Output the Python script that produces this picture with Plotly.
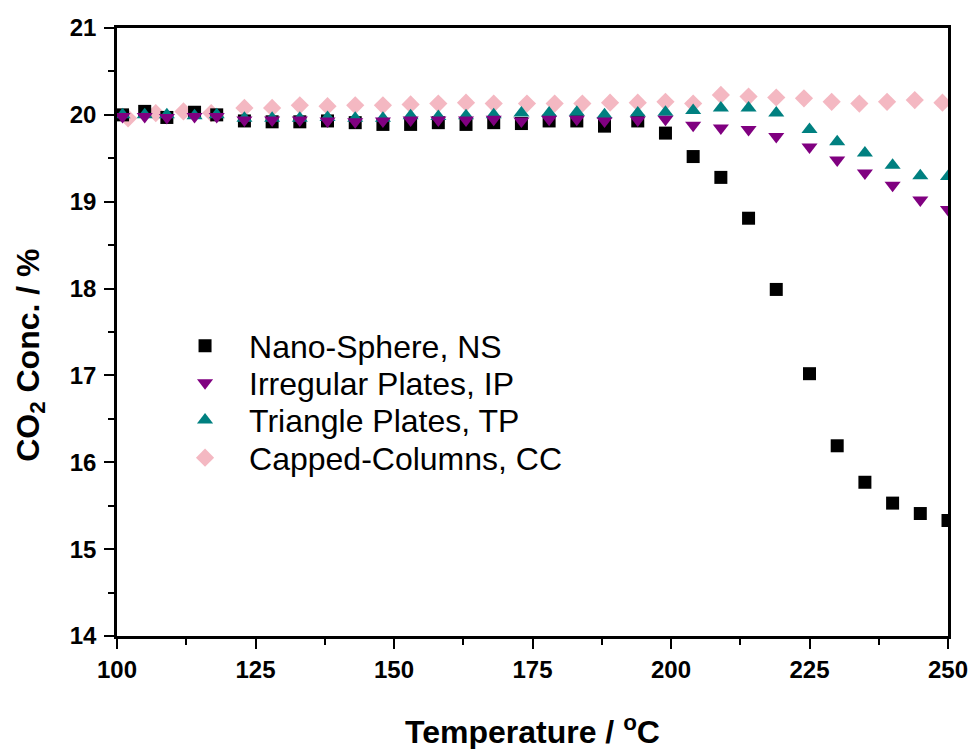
import plotly.graph_objects as go

# Temperature (°C) values
temp_main = [101, 105, 109, 114, 118, 123, 128, 133, 138, 143, 148, 153, 158, 163, 168,
             173, 178, 183, 188, 194, 199, 204, 209, 214, 219, 225, 230, 235, 240, 245, 250]
temp_cc = [102, 107, 112, 117, 123, 128, 133, 138, 143, 148, 153, 158, 163, 168, 174,
           179, 184, 189, 194, 199, 204, 209, 214, 219, 224, 229, 234, 239, 244, 249]

# CO2 concentration (%)
ns = [20.00, 20.04, 19.97, 20.03, 20.00, 19.93, 19.92, 19.92, 19.93, 19.91, 19.89, 19.89,
      19.91, 19.89, 19.91, 19.90, 19.93, 19.93, 19.87, 19.93, 19.79, 19.52, 19.28, 18.81,
      17.99, 17.02, 16.19, 15.77, 15.53, 15.41, 15.33]
ip = [19.98, 19.98, 19.97, 19.98, 19.98, 19.94, 19.94, 19.94, 19.93, 19.92, 19.93, 19.94,
      19.94, 19.94, 19.95, 19.93, 19.95, 19.95, 19.93, 19.94, 19.95, 19.88, 19.85, 19.83,
      19.75, 19.63, 19.48, 19.33, 19.19, 19.02, 18.91]
tp = [20.00, 20.00, 20.00, 19.99, 20.00, 19.96, 19.96, 19.96, 19.97, 19.96, 19.96, 19.99,
      19.98, 19.99, 20.00, 20.02, 20.02, 20.03, 20.00, 20.02, 20.03, 20.05, 20.08, 20.08,
      20.02, 19.83, 19.69, 19.56, 19.42, 19.30, 19.29]
cc = [19.96, 20.02, 20.04, 20.02, 20.08, 20.08, 20.11, 20.10, 20.11, 20.11, 20.12, 20.13,
      20.14, 20.13, 20.13, 20.13, 20.13, 20.14, 20.14, 20.15, 20.13, 20.23, 20.21, 20.20,
      20.19, 20.15, 20.13, 20.15, 20.17, 20.14]

names = ["Nano-Sphere, NS", "Irregular Plates, IP", "Triangle Plates, TP", "Capped-Columns, CC"]
x_ticks = [100, 125, 150, 175, 200, 225, 250]
y_ticks = [14, 15, 16, 17, 18, 19, 20, 21]

FONT = "Liberation Sans, Arial"

fig = go.Figure()
fig.add_trace(go.Scatter(x=temp_cc, y=cc, mode="markers", name=names[3], legend="legend4",
                         marker=dict(symbol="diamond", size=14, color="#F4B8C2")))
fig.add_trace(go.Scatter(x=temp_main, y=ns, mode="markers", name=names[0], legend="legend",
                         marker=dict(symbol="square", size=13, color="#000000")))
fig.add_trace(go.Scatter(x=temp_main, y=tp, mode="markers", name=names[2], legend="legend3",
                         marker=dict(symbol="triangle-up", size=14, color="#008080")))
fig.add_trace(go.Scatter(x=temp_main, y=ip, mode="markers", name=names[1], legend="legend2",
                         marker=dict(symbol="triangle-down", size=14, color="#800080")))

axis_common = dict(
    showline=True, linecolor="black", linewidth=2.5, mirror=True,
    ticks="outside", ticklen=10, tickwidth=2, tickcolor="black",
    showgrid=False, zeroline=False, automargin=False,
    tickfont=dict(family=FONT, size=24, color="black", weight="bold"),
)

def leg(y):
    return dict(x=0.053, y=y, xanchor="left", yanchor="middle",
                bgcolor="rgba(0,0,0,0)", font=dict(size=32, color="black", family=FONT),
                itemwidth=78)

fig.update_layout(
    width=970, height=741,
    margin=dict(l=109, r=30, t=20, b=113),
    paper_bgcolor="white", plot_bgcolor="white",
    font=dict(family=FONT, color="black"),
    xaxis=dict(range=[100, 250], tickvals=x_ticks,
               minor=dict(dtick=12.5, ticks="outside", ticklen=6, tickwidth=2, tickcolor="black"),
               **axis_common),
    yaxis=dict(range=[14, 21], tickvals=y_ticks, ticklabelstandoff=3,
               minor=dict(dtick=0.5, ticks="outside", ticklen=6, tickwidth=2, tickcolor="black"),
               **axis_common),
    annotations=[
        dict(text="<b>CO<sub>2</sub> Conc. / %</b>", textangle=-90,
             xref="paper", yref="paper", x=-0.105, y=0.462,
             xanchor="center", yanchor="middle", showarrow=False,
             font=dict(size=32, color="black", family=FONT)),
        dict(text="<b>Temperature / <sup>o</sup>C</b>",
             xref="paper", yref="paper", x=0.5, y=-0.155,
             xanchor="center", yanchor="middle", showarrow=False,
             font=dict(size=32, color="black", family=FONT)),
    ],
    legend=leg(0.477),
    legend2=leg(0.416),
    legend3=leg(0.355),
    legend4=leg(0.293),
    showlegend=True,
)

fig.write_html("out.html")
